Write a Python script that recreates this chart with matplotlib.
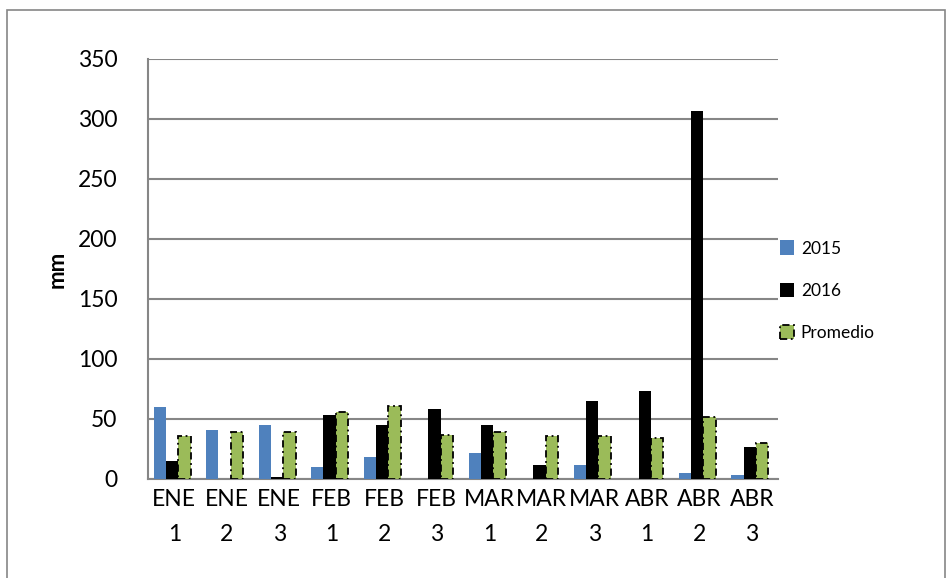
import numpy as np
import matplotlib.pyplot as plt
from matplotlib.patches import Rectangle

plt.rcParams['font.family'] = ['Lato', 'DejaVu Sans']

categories = ['ENE\n1', 'ENE\n2', 'ENE\n3', 'FEB\n1', 'FEB\n2', 'FEB\n3',
              'MAR\n1', 'MAR\n2', 'MAR\n3', 'ABR\n1', 'ABR\n2', 'ABR\n3']
values_2015 = [60, 41, 45, 10, 18, 0, 22, 0, 12, 0, 5, 3]
values_2016 = [15, 0, 2, 53, 45, 58, 45, 12, 65, 73, 307, 27]
values_prom = [36, 39, 39, 56, 61, 37, 39, 36, 36, 34, 52, 30]

fig = plt.figure(figsize=(9.53, 5.78), dpi=100)
ax = fig.add_axes([0.1553, 0.1713, 0.6611, 0.7267])

x = np.arange(len(categories))
w = 0.235
ax.bar(x - w - 0.04, values_2015, w, color='#4F81BD', label='2015', zorder=3)
ax.bar(x - 0.04, values_2016, w, color='black', label='2016', zorder=3)
ax.bar(x + w - 0.04, values_prom, w, color='#9BBB59', edgecolor='black',
       linestyle=(0, (4, 2, 1, 2)), linewidth=1.3, label='Promedio', zorder=3)

ax.set_xlim(-0.5, len(categories) - 0.5)
ax.set_ylim(0, 350)
ax.set_yticks(range(0, 351, 50))
ax.yaxis.grid(True, color='#868686', linewidth=1.5, zorder=0)
ax.set_xticks(x)
ax.set_xticklabels(categories, fontsize=16.5, linespacing=1.85)
ax.tick_params(axis='y', labelsize=16.5, length=0, pad=22)
ax.tick_params(axis='x', length=0, pad=7)
for s in ['top', 'right']:
    ax.spines[s].set_visible(False)
for s in ['left', 'bottom']:
    ax.spines[s].set_color('#868686')
    ax.spines[s].set_linewidth(1.5)

ax.set_ylabel('mm', fontsize=16, fontweight='bold', labelpad=7)

fig.legend(loc='center left', bbox_to_anchor=(0.802, 0.497), frameon=False,
           fontsize=12.5, handlelength=0.8, handleheight=0.9, labelspacing=1.5,
           handletextpad=0.4)

fig.patches.append(Rectangle((7 / 953, -0.01), 938 / 953, 1 - 10 / 578 + 0.01,
                             transform=fig.transFigure, fill=False,
                             edgecolor='#868686', linewidth=1.2))

fig.savefig('out.png', dpi=100)
